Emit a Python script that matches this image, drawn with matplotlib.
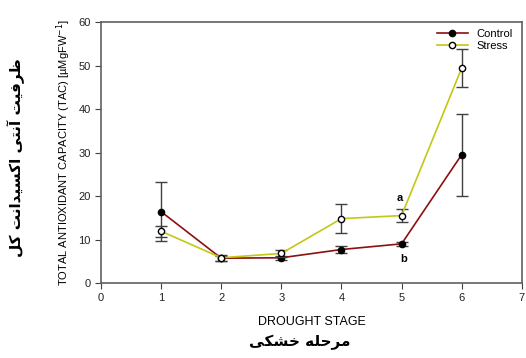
import matplotlib
matplotlib.use("Agg")
import matplotlib.pyplot as plt
from matplotlib.lines import Line2D

plt.rcParams['font.family'] = ['Liberation Sans', 'DejaVu Sans']

stages = [1, 2, 3, 4, 5, 6]
control = [16.4, 5.7, 5.8, 7.7, 9.0, 29.5]
control_err = [6.8, 0.6, 0.4, 0.7, 0.4, 9.4]
stress = [11.9, 5.8, 6.8, 14.8, 15.5, 49.4]
stress_err = [1.3, 0.7, 0.8, 3.3, 1.4, 4.4]
xticks = [0, 1, 2, 3, 4, 5, 6, 7]
yticks = [0, 10, 20, 30, 40, 50, 60]

# Persian labels pre-shaped (presentation forms, visual order)
fa_x = "\uFBFD\uFB91\uFEB8\uFEA7 \uFEEA\uFEE0\uFEA3\uFEAE\uFEE3"
fa_y = ("\uFEDE\uFB90 \uFE96\uFEE7\uFE8D\uFEAA\uFEF4\uFEB4\uFB90\uFE8D "
        "\uFBFD\uFE98\uFEE7\uFE81 \uFE96\uFEF4\uFED3\uFEAE\uFEC7")

fig = plt.figure(figsize=(5.26, 3.58), dpi=100)
ax = fig.add_axes([0.192, 0.2095, 0.8, 0.729])

c_ctrl = '#8B1010'
c_str = '#C2C814'
ax.errorbar(stages, control, yerr=control_err, color=c_ctrl, lw=1.2,
            marker='o', ms=4.5, mfc='black', mec='black', ecolor='#404040',
            elinewidth=1, capsize=4, capthick=1, zorder=3)
ax.errorbar(stages, stress, yerr=stress_err, color=c_str, lw=1.2,
            marker='o', ms=4.5, mfc='white', mec='black', ecolor='#404040',
            elinewidth=1, capsize=4, capthick=1, zorder=4)

ax.set_xlim(0, 7)
ax.set_ylim(0, 60)
ax.set_xticks(xticks)
ax.set_yticks(yticks)
ax.tick_params(labelsize=8, length=4, direction='out', color='#404040',
               labelcolor='#222222')
for s in ax.spines.values():
    s.set_color('#606060')
    s.set_linewidth(1.2)

ax.text(4.97, 19.5, 'a', fontsize=8, fontweight='bold', ha='center', va='center')
ax.text(5.04, 5.6, 'b', fontsize=8, fontweight='bold', ha='center', va='center')

handles = [Line2D([], [], color=c_ctrl, lw=1.2, marker='o', ms=4.5, mfc='black', mec='black'),
           Line2D([], [], color=c_str, lw=1.2, marker='o', ms=4.5, mfc='white', mec='black')]
ax.legend(handles, ['Control', 'Stress'], loc='upper right', frameon=False,
          fontsize=8, handlelength=2.8, borderaxespad=0.2, labelspacing=0.2,
          bbox_to_anchor=(0.995, 1.0))

ax.set_xlabel('DROUGHT STAGE', fontsize=9, labelpad=9)
ax.set_ylabel('TOTAL ANTIOXIDANT CAPACITY (TAC) [\u00b5MgFW$^{-1}$]', fontsize=8, labelpad=4)

fig.text(0.57, 0.045, fa_x, fontsize=11, fontweight='bold', ha='center', va='center',
         family='DejaVu Sans')
fig.text(0.03, 0.56, fa_y, fontsize=11, fontweight='bold', ha='center', va='center',
         rotation=90, family='DejaVu Sans')

fig.savefig('out.png', dpi=100)
